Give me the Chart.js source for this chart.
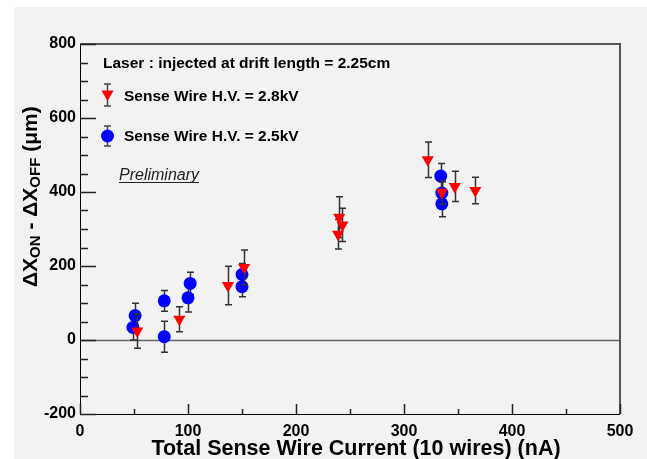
<!DOCTYPE html>
<html>
<head>
<meta charset="utf-8">
<script src="https://cdn.jsdelivr.net/npm/chart.js@4.4.0/dist/chart.umd.min.js"></script>
<style>
html, body { margin: 0; padding: 0; background: #fff; }
canvas { display: block; }
</style>
</head>
<body>
<canvas id="c" width="647" height="459"></canvas>
<script>
// Sense Wire H.V. = 2.8kV (red triangles)
var redX   = [53, 92, 137, 152, 239, 240, 243, 322, 335, 347, 366];
var redY   = [24, 56, 147, 196, 286, 332, 311, 487, 399, 415, 404];
var redErr = [46, 34, 52, 47, 40, 55, 45, 48, 32, 41, 36];

// Sense Wire H.V. = 2.5kV (blue circles)
var blueX   = [49, 51, 78, 78, 100, 102, 150, 150, 334, 335, 335];
var blueY   = [34, 66, 106, 9, 114, 153, 177, 144, 443, 397, 368];
var blueErr = [34, 33, 28, 42, 38, 30, 30, 27, 34, 30, 35];

var xMin = 0, xMax = 500, xStep = 100;
var yMin = -200, yMax = 800, yStep = 200;

var FONT = '"Liberation Sans", Arial, Helvetica, sans-serif';

function toPoints(xs, ys) {
  return xs.map(function (x, i) { return { x: x, y: ys[i] }; });
}

// grey pad background
var background = {
  id: 'background',
  beforeDraw: function (chart) {
    var ctx = chart.ctx;
    ctx.save();
    ctx.fillStyle = '#ffffff';
    ctx.fillRect(0, 0, chart.width, chart.height);
    ctx.fillStyle = '#f2f2f2';
    ctx.fillRect(14, 7, chart.width - 14, chart.height - 7);
    ctx.restore();
  },
  beforeDatasetsDraw: function (chart) {
    // zero line
    var ctx = chart.ctx, a = chart.chartArea;
    var y0 = Math.round(chart.scales.y.getPixelForValue(0)) + 0.5;
    ctx.save();
    ctx.strokeStyle = '#666';
    ctx.lineWidth = 1.5;
    ctx.beginPath();
    ctx.moveTo(a.left, y0);
    ctx.lineTo(a.right, y0);
    ctx.stroke();
    ctx.restore();
  }
};

function drawErr(ctx, px, top, bot) {
  ctx.beginPath();
  ctx.moveTo(px, top); ctx.lineTo(px, bot);
  ctx.moveTo(px - 3.5, top); ctx.lineTo(px + 3.5, top);
  ctx.moveTo(px - 3.5, bot); ctx.lineTo(px + 3.5, bot);
  ctx.stroke();
}

var errorBars = {
  id: 'errorBars',
  beforeDatasetDraw: function (chart, args) {
    var ds = chart.data.datasets[args.index];
    var xs = chart.scales.x, ys = chart.scales.y;
    var ctx = chart.ctx;
    ctx.save();
    ctx.strokeStyle = '#333';
    ctx.lineWidth = 1.5;
    ds.data.forEach(function (p, i) {
      var px = Math.round(xs.getPixelForValue(p.x)) + 0.5;
      drawErr(ctx, px, ys.getPixelForValue(p.y + ds.errors[i]), ys.getPixelForValue(p.y - ds.errors[i]));
    });
    ctx.restore();
  }
};

function triangleDown(ctx, x, y, r) {
  ctx.beginPath();
  ctx.moveTo(x, y + r);
  ctx.lineTo(x - r * Math.sqrt(3) / 2, y - r / 2);
  ctx.lineTo(x + r * Math.sqrt(3) / 2, y - r / 2);
  ctx.closePath();
  ctx.fill();
}

var frameAndText = {
  id: 'frameAndText',
  afterDraw: function (chart) {
    var ctx = chart.ctx, a = chart.chartArea;
    var xs = chart.scales.x, ys = chart.scales.y;
    ctx.save();

    // frame
    ctx.strokeStyle = '#555';
    ctx.lineWidth = 2;
    ctx.beginPath();
    ctx.moveTo(a.left, a.top); ctx.lineTo(a.right, a.top); ctx.lineTo(a.right, a.bottom);
    ctx.stroke();
    ctx.strokeStyle = '#000';
    ctx.lineWidth = 1;
    ctx.beginPath();
    ctx.moveTo(a.left + 0.5, a.top); ctx.lineTo(a.left + 0.5, a.bottom + 0.5); ctx.lineTo(a.right, a.bottom + 0.5);
    ctx.stroke();

    // inward ticks
    ctx.strokeStyle = '#222';
    ctx.lineWidth = 1.5;
    ctx.beginPath();
    for (var v = yMin; v <= yMax; v += yStep / 4) {
      var py = Math.round(ys.getPixelForValue(v)) + 0.5;
      var len = (v % yStep === 0) ? 16 : 8;
      ctx.moveTo(a.left, py); ctx.lineTo(a.left + len, py);
    }
    for (var u = xMin; u <= xMax; u += xStep / 2) {
      var px = Math.round(xs.getPixelForValue(u)) + 0.5;
      var l2 = (u % xStep === 0) ? 10 : 5;
      ctx.moveTo(px, a.bottom); ctx.lineTo(px, a.bottom - l2);
    }
    ctx.stroke();

    // legend block
    ctx.fillStyle = '#000';
    ctx.textBaseline = 'alphabetic';
    ctx.font = 'bold 15.5px ' + FONT;
    ctx.fillText('Laser : injected at drift length = 2.25cm', 103, 68);

    ctx.strokeStyle = '#444';
    ctx.lineWidth = 1.5;
    drawErr(ctx, 107.5, 84, 106);
    ctx.fillStyle = '#ff0000';
    triangleDown(ctx, 107.5, 94, 7);
    ctx.fillStyle = '#000';
    ctx.fillText('Sense Wire H.V. = 2.8kV', 124, 101);

    ctx.strokeStyle = '#444';
    drawErr(ctx, 107.5, 126, 146);
    ctx.fillStyle = '#0000ff';
    ctx.beginPath();
    ctx.arc(107.5, 136, 6.5, 0, Math.PI * 2);
    ctx.fill();
    ctx.fillStyle = '#000';
    ctx.fillText('Sense Wire H.V. = 2.5kV', 124, 141);

    ctx.font = 'italic 16px ' + FONT;
    ctx.fillStyle = '#222';
    var pw = ctx.measureText('Preliminary').width;
    ctx.fillText('Preliminary', 119, 180);
    ctx.fillRect(119, 182, pw, 1);

    // x title
    ctx.fillStyle = '#000';
    ctx.font = 'bold 21.5px ' + FONT;
    ctx.textAlign = 'center';
    ctx.fillText('Total Sense Wire Current (10 wires) (nA)', 356, 455);

    // y title, rotated with subscripts
    ctx.textAlign = 'left';
    ctx.translate(37, 287);
    ctx.rotate(-Math.PI / 2);
    var parts = [
      ['\u0394X', 21, 0], ['ON', 15, 3], [' - \u0394X', 21, 0], ['OFF', 15, 3], [' (\u03bcm)', 21, 0]
    ];
    var cx = 0;
    parts.forEach(function (p) {
      ctx.font = 'bold ' + p[1] + 'px ' + FONT;
      ctx.fillText(p[0], cx, p[2]);
      cx += ctx.measureText(p[0]).width;
    });
    ctx.restore();
  }
};

var tickFont = { family: FONT, size: 16, weight: 'bold' };

new Chart(document.getElementById('c'), {
  type: 'scatter',
  data: {
    datasets: [
      {
        label: 'Sense Wire H.V. = 2.8kV',
        data: toPoints(redX, redY),
        errors: redErr,
        pointStyle: 'triangle',
        rotation: 180,
        pointRadius: 7,
        backgroundColor: '#ff0000',
        borderWidth: 0
      },
      {
        label: 'Sense Wire H.V. = 2.5kV',
        data: toPoints(blueX, blueY),
        errors: blueErr,
        pointStyle: 'circle',
        pointRadius: 6.5,
        backgroundColor: '#0000ff',
        borderWidth: 0
      }
    ]
  },
  options: {
    responsive: false,
    devicePixelRatio: 1,
    animation: false,
    layout: { padding: { left: 0, top: 44, right: 27, bottom: 0 } },
    plugins: { legend: { display: false }, tooltip: { enabled: false } },
    scales: {
      x: {
        type: 'linear',
        min: xMin, max: xMax,
        grid: { display: false },
        border: { display: false },
        ticks: { stepSize: xStep, color: '#000', font: tickFont, padding: 0, maxRotation: 0 },
        afterFit: function (s) { s.height = 45; }
      },
      y: {
        type: 'linear',
        min: yMin, max: yMax,
        grid: { display: false, drawTicks: false },
        border: { display: false },
        ticks: { stepSize: yStep, color: '#000', font: tickFont, padding: 4 },
        afterFit: function (s) { s.width = 80; }
      }
    }
  },
  plugins: [background, errorBars, frameAndText]
});
</script>
</body>
</html>
